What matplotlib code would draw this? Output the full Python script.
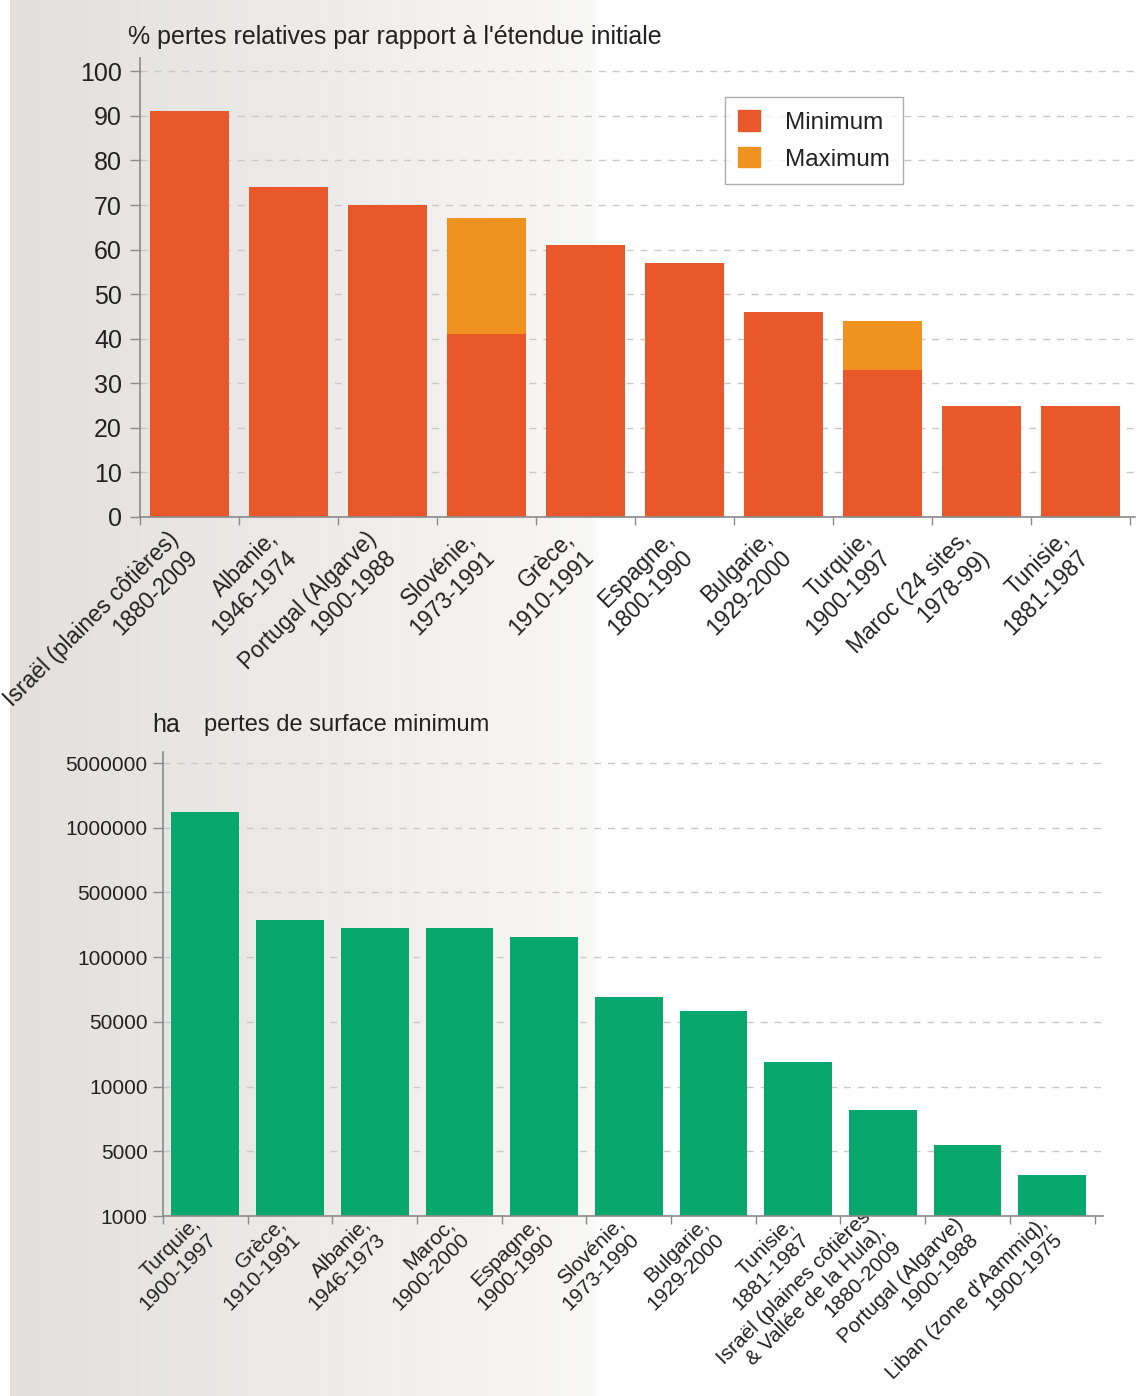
import numpy as np
import matplotlib
matplotlib.use("Agg")
import matplotlib.pyplot as plt
import matplotlib.transforms as mtransforms
from matplotlib.patches import Patch
from matplotlib.ticker import FixedLocator, NullFormatter

plt.rcParams['font.family'] = ['Liberation Sans', 'DejaVu Sans']

# --- top chart data: relative losses (%)
pct_labels = ["Israël (plaines côtières)\n1880-2009", "Albanie,\n1946-1974",
              "Portugal (Algarve)\n1900-1988", "Slovénie,\n1973-1991",
              "Grèce,\n1910-1991", "Espagne,\n1800-1990", "Bulgarie,\n1929-2000",
              "Turquie,\n1900-1997", "Maroc (24 sites,\n1978-99)", "Tunisie,\n1881-1987"]
pct_min = [91, 74, 70, 41, 61, 57, 46, 33, 25, 25]
pct_max = [None, None, None, 67, None, None, None, 44, None, None]
pct_ticks = [0, 10, 20, 30, 40, 50, 60, 70, 80, 90, 100]

# --- bottom chart data: minimum area losses (ha)
ha_labels = ["Turquie,\n1900-1997", "Grèce,\n1910-1991", "Albanie,\n1946-1973",
             "Maroc,\n1900-2000", "Espagne,\n1900-1990", "Slovénie,\n1973-1990",
             "Bulgarie,\n1929-2000", "Tunisie,\n1881-1987",
             "Israël (plaines côtières\n& Vallée de la Hula),\n1880-2009",
             "Portugal (Algarve)\n1900-1988", "Liban (zone d'Aammiq),\n1900-1975"]
ha_vals = [1980000, 332000, 280000, 280000, 225000, 69500, 58200, 25400, 8190, 5450, 3560]
ha_ticks = [1000, 5000, 10000, 50000, 100000, 500000, 1000000, 5000000]

c_min = '#e9582a'
c_max = '#f0921f'
c_green = '#07a76e'
grid_c = '#c8c8c8'
axis_c = '#8a8a8a'
text_c = '#222222'

W, H = 1138, 1396
fig = plt.figure(figsize=(W / 100, H / 100), dpi=100)

# background gradient (grey on the left fading to white)
bg = fig.add_axes([0, 0, 1, 1], zorder=-10)
xs = np.arange(W)
shade = np.interp(xs, [0, 9, 10, 590, 600, W], [255, 255, 226, 248, 255, 255])
k = (1 - (shade - 226) / 29).clip(0, 1)
g = np.stack([shade, shade - 3 * k, shade - 6 * k], axis=-1) / 255.0
bg.imshow(g[None, :, :].clip(0, 1), aspect='auto', extent=[0, 1, 0, 1])
bg.axis('off')


def style_axes(ax):
    ax.set_facecolor('none')
    for s in ['top', 'right']:
        ax.spines[s].set_visible(False)
    for s in ['left', 'bottom']:
        ax.spines[s].set_color(axis_c)
        ax.spines[s].set_linewidth(1.2)
    ax.set_axisbelow(True)
    ax.yaxis.grid(True, color=grid_c, linestyle=(0, (5, 5)), linewidth=1)
    ax.tick_params(axis='y', colors=axis_c, labelcolor=text_c, labelsize=18,
                   length=7, width=1, pad=6)
    ax.tick_params(axis='x', which='major', length=0, labelcolor=text_c,
                   labelsize=16.5, pad=12)
    ax.tick_params(axis='x', which='minor', length=6, width=1, colors=axis_c)


# ---------------- top chart ----------------
ax1 = fig.add_axes([140 / W, 1 - 517 / H, 995 / W, (517 - 58) / H])
x1 = np.arange(len(pct_labels))
ax1.bar(x1, pct_min, width=0.8, color=c_min, label='Minimum')
mx_idx = [i for i, v in enumerate(pct_max) if v is not None]
ax1.bar([x1[i] for i in mx_idx], [pct_max[i] - pct_min[i] for i in mx_idx],
        bottom=[pct_min[i] for i in mx_idx], width=0.8, color=c_max, label='Maximum')
ax1.set_xlim(-0.5, len(pct_labels) - 0.45)
ax1.set_ylim(0, 103)
ax1.set_yticks(pct_ticks)
style_axes(ax1)
ax1.tick_params(axis='x', which='major', pad=20)
ax1.set_xticks(x1)
ax1.set_xticklabels(pct_labels, rotation=45, ha='right', va='center',
                    rotation_mode='anchor', multialignment='right')
shift = mtransforms.ScaledTranslation(-5 / 100, 0, fig.dpi_scale_trans)
for lab in ax1.get_xticklabels():
    lab.set_transform(lab.get_transform() + shift)
ax1.xaxis.set_minor_locator(FixedLocator(np.arange(len(pct_labels) + 1) - 0.5))
ax1.xaxis.set_minor_formatter(NullFormatter())
fig.text(128 / W, 1 - 37 / H, "% pertes relatives par rapport à l'étendue initiale",
         fontsize=18, color=text_c, va='center', ha='left')

leg = fig.legend(handles=[Patch(color=c_min, label='Minimum'),
                          Patch(color=c_max, label='Maximum')],
                 loc='upper left', bbox_to_anchor=(725 / W, 1 - 97 / H),
                 fontsize=17.5, frameon=True, fancybox=False, handlelength=0.9,
                 handleheight=0.9, handletextpad=1.0, borderpad=0.55,
                 labelspacing=0.55, borderaxespad=0)
leg.get_frame().set_edgecolor('#999999')
leg.get_frame().set_linewidth(1)
for t in leg.get_texts():
    t.set_color(text_c)

# ---------------- bottom chart ----------------
# evenly spaced tick values (not a true log scale)
ext_vals = [-3000] + ha_ticks + [9000000]
ext_pos = np.arange(-1, len(ha_ticks) + 1)


def fwd(v):
    return np.interp(v, ext_vals, ext_pos)


def inv(p):
    return np.interp(p, ext_pos, ext_vals)


ax2 = fig.add_axes([163 / W, 1 - 1216 / H, 940 / W, (1216 - 752) / H])
ax2.set_yscale('function', functions=(fwd, inv))
x2 = np.arange(len(ha_labels))
ax2.bar(x2, [v - 1000 for v in ha_vals], bottom=1000, width=0.8, color=c_green)
ax2.set_xlim(-0.5, len(ha_labels) - 0.4)
ax2.set_ylim(1000, inv(7.17))
ax2.yaxis.set_major_locator(FixedLocator(ha_ticks))
ax2.set_yticklabels([str(t) for t in ha_ticks])
ax2.yaxis.set_minor_locator(FixedLocator([]))
style_axes(ax2)
ax2.tick_params(axis='y', labelsize=15, pad=4)
ax2.tick_params(axis='x', which='major', labelsize=15, pad=9)
ax2.set_xticks(x2)
ax2.set_xticklabels(ha_labels, rotation=45, ha='right', va='center',
                    rotation_mode='anchor', multialignment='right', linespacing=1.15)
ax2.xaxis.set_minor_locator(FixedLocator(np.arange(len(ha_labels) + 1) - 0.5))
ax2.xaxis.set_minor_formatter(NullFormatter())
fig.text(152 / W, 1 - 725 / H, "ha", fontsize=18, color=text_c, va='center')
fig.text(204 / W, 1 - 725 / H, "pertes de surface minimum", fontsize=17,
         color=text_c, va='center')

fig.savefig('out.png', dpi=100)
